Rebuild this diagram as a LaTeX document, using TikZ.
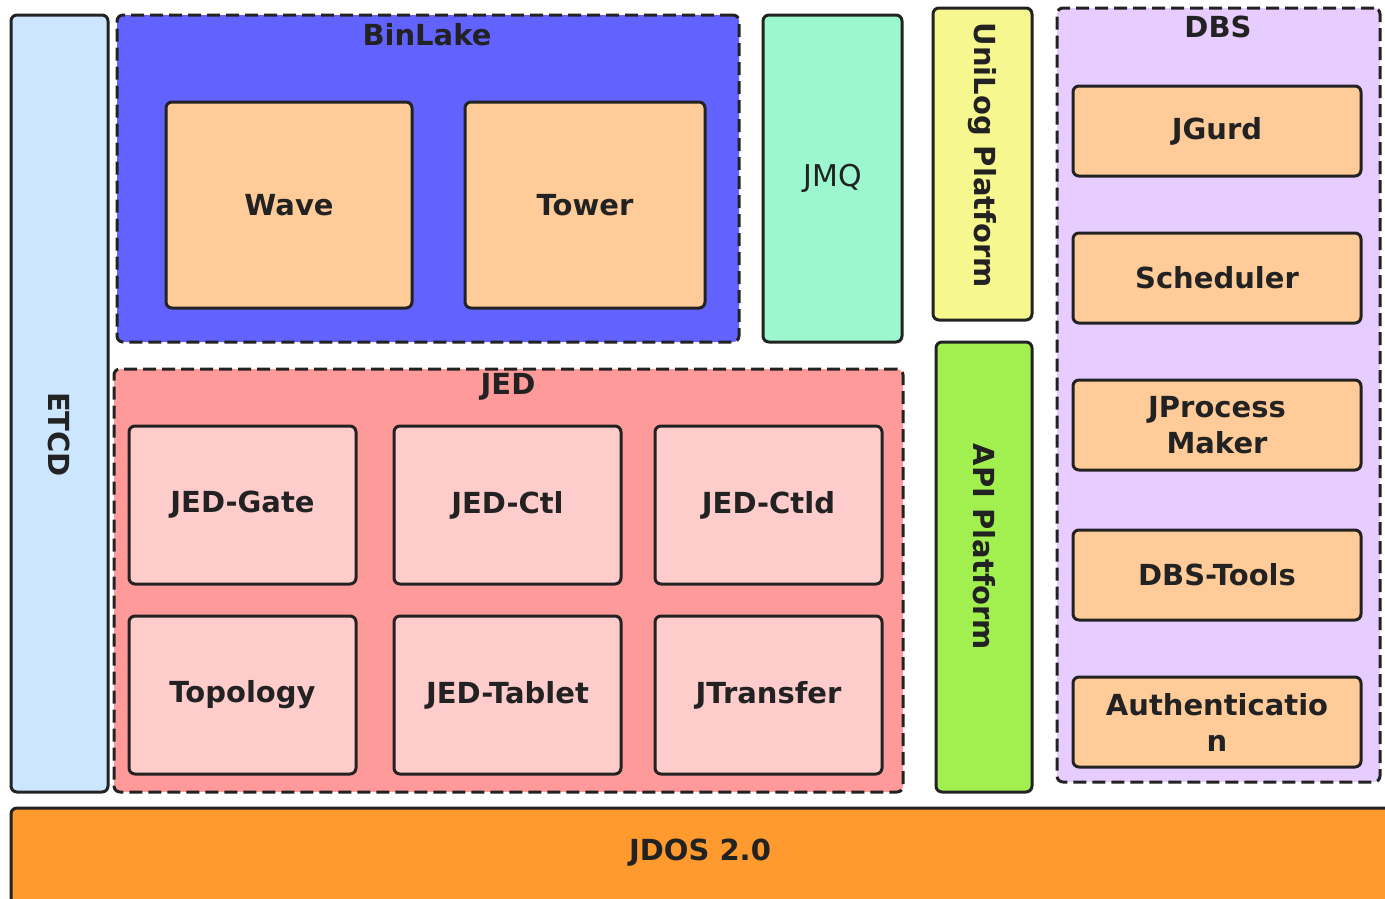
\documentclass[tikz,border=0pt]{standalone}
\usepackage{fontspec}
\setmainfont{DejaVu Sans}
\definecolor{etcdc}{HTML}{CCE6FF}
\definecolor{binc}{HTML}{6262FF}
\definecolor{orgc}{HTML}{FFCC99}
\definecolor{jmqc}{HTML}{9CF7CF}
\definecolor{unic}{HTML}{F7F78F}
\definecolor{apic}{HTML}{A2F050}
\definecolor{dbsc}{HTML}{E6CCFF}
\definecolor{jedc}{HTML}{FF9A9A}
\definecolor{cellc}{HTML}{FFCCCC}
\definecolor{jdosc}{HTML}{FF9A2E}
\definecolor{ink}{HTML}{222222}
\begin{document}
\begin{tikzpicture}[x=1pt,y=-1pt,
  box/.style={draw=ink, line width=3pt, rounded corners=6pt, inner sep=0pt, outer sep=0pt,
    anchor=north west, font=\fontsize{29}{36}\selectfont\bfseries, text=ink, align=center},
  grp/.style={box, dash pattern=on 13pt off 6pt},
  lbl/.style={font=\fontsize{29}{36}\selectfont\bfseries, text=ink, inner sep=0pt},
  vlbl/.style={lbl, rotate=-90}]
\useasboundingbox (0,0) rectangle (1385,898);
\fill[white] (0,0) rectangle (1385,898);
% ETCD
\node[box, fill=etcdc, minimum width=97pt, minimum height=777pt] (etcd) at (11,15) {};
\node[vlbl] (etcdt) at ([yshift=-31pt]etcd.center) {ETCD};
% BinLake
\node[grp, fill=binc, minimum width=622pt, minimum height=327pt] (binlake) at (117,15) {};
\node[lbl] (binlaket) at (427,35) {BinLake};
\node[box, fill=orgc, minimum width=246pt, minimum height=206pt] (wave) at (166,102) {Wave};
\node[box, fill=orgc, minimum width=240pt, minimum height=206pt] (tower) at (465,102) {Tower};
% JMQ
\node[box, fill=jmqc, minimum width=139pt, minimum height=327pt, font=\fontsize{30}{36}\selectfont] (jmq) at (763,15) {JMQ};
% UniLog
\node[box, fill=unic, minimum width=99pt, minimum height=312pt] (unilog) at (933,8) {};
\node[vlbl] (unilogt) at ([yshift=9pt]unilog.center) {UniLog Platform};
% API
\node[box, fill=apic, minimum width=96pt, minimum height=450pt] (api) at (936,342) {};
\node[vlbl] (apit) at ([yshift=20pt]api.center) {API Platform};
% DBS
\node[grp, fill=dbsc, minimum width=323pt, minimum height=774pt] (dbs) at (1057,8) {};
\node[lbl] (dbst) at (1218,27) {DBS};
\node[box, fill=orgc, minimum width=288pt, minimum height=90pt] (jgurd) at (1073,86) {JGurd};
\node[box, fill=orgc, minimum width=288pt, minimum height=90pt] (sched) at (1073,233) {Scheduler};
\node[box, fill=orgc, minimum width=288pt, minimum height=90pt] (jproc) at (1073,380) {JProcess\\Maker};
\node[box, fill=orgc, minimum width=288pt, minimum height=90pt] (tools) at (1073,530) {DBS-Tools};
\node[box, fill=orgc, minimum width=288pt, minimum height=90pt] (auth) at (1073,677) {Authenticatio\\n};
% JED
\node[grp, fill=jedc, minimum width=789pt, minimum height=423pt] (jed) at (114,369) {};
\node[lbl] (jedt) at (508,387) {JED};
\node[box, fill=cellc, minimum width=227pt, minimum height=158pt] (gate) at (129,426) {JED-Gate};
\node[box, fill=cellc, minimum width=227pt, minimum height=158pt] (ctl) at (394,426) {JED-Ctl};
\node[box, fill=cellc, minimum width=227pt, minimum height=158pt] (ctld) at (655,426) {JED-Ctld};
\node[box, fill=cellc, minimum width=227pt, minimum height=158pt] (topo) at (129,616) {Topology};
\node[box, fill=cellc, minimum width=227pt, minimum height=158pt] (tablet) at (394,616) {JED-Tablet};
\node[box, fill=cellc, minimum width=227pt, minimum height=158pt] (jtrans) at (655,616) {JTransfer};
% JDOS
\node[box, fill=jdosc, minimum width=1385pt, minimum height=100pt] (jdos) at (11,808) {};
\node[lbl] (jdost) at (700,853) {JDOS 2.0};
\end{tikzpicture}
\end{document}
